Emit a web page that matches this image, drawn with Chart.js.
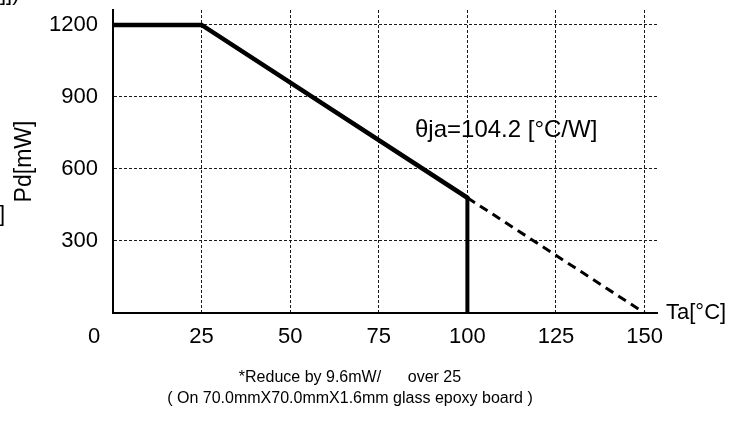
<!DOCTYPE html>
<html>
<head>
<meta charset="utf-8">
<script src="https://cdn.jsdelivr.net/npm/chart.js@4/dist/chart.umd.min.js"></script>
<style>
  html, body { margin: 0; padding: 0; background: #fff; }
  #wrap { width: 745px; height: 421px; }
</style>
</head>
<body>
<div id="wrap"><canvas id="c" width="745" height="421"></canvas></div>
<script>
// ---- data ----
const deratingTemp = [0, 25, 100];        // Ta [°C]
const deratingPower = [1200, 1200, 480];  // Pd [mW]
const cutoffTemp = [100, 100];
const cutoffPower = [480, 0];
const extensionTemp = [100, 150];
const extensionPower = [480, 0];
const xTickValues = [0, 25, 50, 75, 100, 125, 150];
const yTickValues = [0, 300, 600, 900, 1200];
const xAxisTitle = 'Ta[°C]';
const yAxisTitle = 'Pd[mW]';
const thetaLabel = 'θja=104.2 [°C/W]';
const noteLines = ['*Reduce by 9.6mW/      over 25', '( On 70.0mmX70.0mmX1.6mm glass epoxy board )'];

const toPoints = (xs, ys) => xs.map((x, i) => ({x: x, y: ys[i]}));
const FONT = '"Liberation Sans", Arial, sans-serif';

const textPlugin = {
  id: 'extraText',
  afterDraw(chart) {
    const ctx = chart.ctx;
    const xs = chart.scales.x, ys = chart.scales.y;
    ctx.save();
    ctx.fillStyle = '#000';
    // origin "0" label, offset to the left as in the reference
    ctx.font = '22px ' + FONT;
    ctx.textAlign = 'center';
    ctx.textBaseline = 'middle';
    ctx.fillText(String(xTickValues[0]), xs.getPixelForValue(xTickValues[0]) - 19, 337);
    // x axis title at the end of the axis
    ctx.textAlign = 'left';
    ctx.fillText(xAxisTitle, chart.chartArea.right + 9, ys.getPixelForValue(0));
    // theta label
    ctx.font = '24px ' + FONT;
    ctx.fillText(thetaLabel, 415, 130);
    // footnotes
    ctx.font = '16px ' + FONT;
    ctx.textAlign = 'center';
    ctx.fillText(noteLines[0], 350, 378);
    ctx.fillText(noteLines[1], 350, 399);
    // cropped fragments at the edges of the reference
    ctx.font = '22px ' + FONT;
    ctx.textAlign = 'left';
    ctx.textBaseline = 'alphabetic';
    ctx.fillText(']])', 0, 0);
    ctx.textAlign = 'right';
    ctx.textBaseline = 'middle';
    ctx.fillText(']', 5, 215);
    ctx.restore();
  }
};

new Chart(document.getElementById('c'), {
  type: 'scatter',
  data: {
    datasets: [
      {
        data: toPoints(extensionTemp, extensionPower),
        showLine: true, borderColor: '#000', borderWidth: 3, borderDash: [9, 6],
        pointRadius: 0, fill: false, order: 3
      },
      {
        data: toPoints(cutoffTemp, cutoffPower),
        showLine: true, borderColor: '#000', borderWidth: 4,
        pointRadius: 0, fill: false, order: 2
      },
      {
        data: toPoints(deratingTemp, deratingPower),
        showLine: true, borderColor: '#000', borderWidth: 4.5, borderCapStyle: 'round',
        pointRadius: 0, fill: false, order: 1
      }
    ]
  },
  options: {
    responsive: false,
    animation: false,
    devicePixelRatio: 1,
    layout: { padding: { left: 0, right: 88, top: 10, bottom: 68 } },
    plugins: { legend: { display: false }, tooltip: { enabled: false } },
    scales: {
      x: {
        type: 'linear',
        min: 0, max: 153.5,
        afterBuildTicks: s => { s.ticks = xTickValues.map(v => ({value: v})); },
        afterFit: s => { s.height = 40; s.paddingLeft = 0; s.paddingRight = 0; },
        ticks: {
          padding: 11, maxRotation: 0, autoSkip: false,
          color: '#000', font: { size: 22, family: FONT },
          callback: v => (v === 0 ? '' : String(v))
        },
        grid: {
          drawTicks: false, lineWidth: 1,
          color: c => (c.tick && c.tick.value === 0 ? 'rgba(0,0,0,0)' : '#1a1a1a')
        },
        border: { display: true, color: '#000', width: 2, dash: [3, 2] }
      },
      y: {
        type: 'linear',
        min: 0, max: 1262,
        afterBuildTicks: s => { s.ticks = yTickValues.map(v => ({value: v})); },
        afterFit: s => { s.width = 113; s.paddingTop = 0; s.paddingBottom = 0; },
        ticks: {
          padding: 15, color: '#000', font: { size: 22, family: FONT },
          callback: v => (v === 0 ? '' : String(v))
        },
        title: {
          display: true, text: yAxisTitle, color: '#000',
          font: { size: 23, family: FONT }, padding: { top: 11, bottom: 0 }
        },
        grid: {
          drawTicks: false, lineWidth: 1,
          color: c => (c.tick && c.tick.value === 0 ? 'rgba(0,0,0,0)' : '#1a1a1a')
        },
        border: { display: true, color: '#000', width: 2, dash: [3, 2] }
      }
    }
  },
  plugins: [textPlugin]
});
</script>
</body>
</html>
